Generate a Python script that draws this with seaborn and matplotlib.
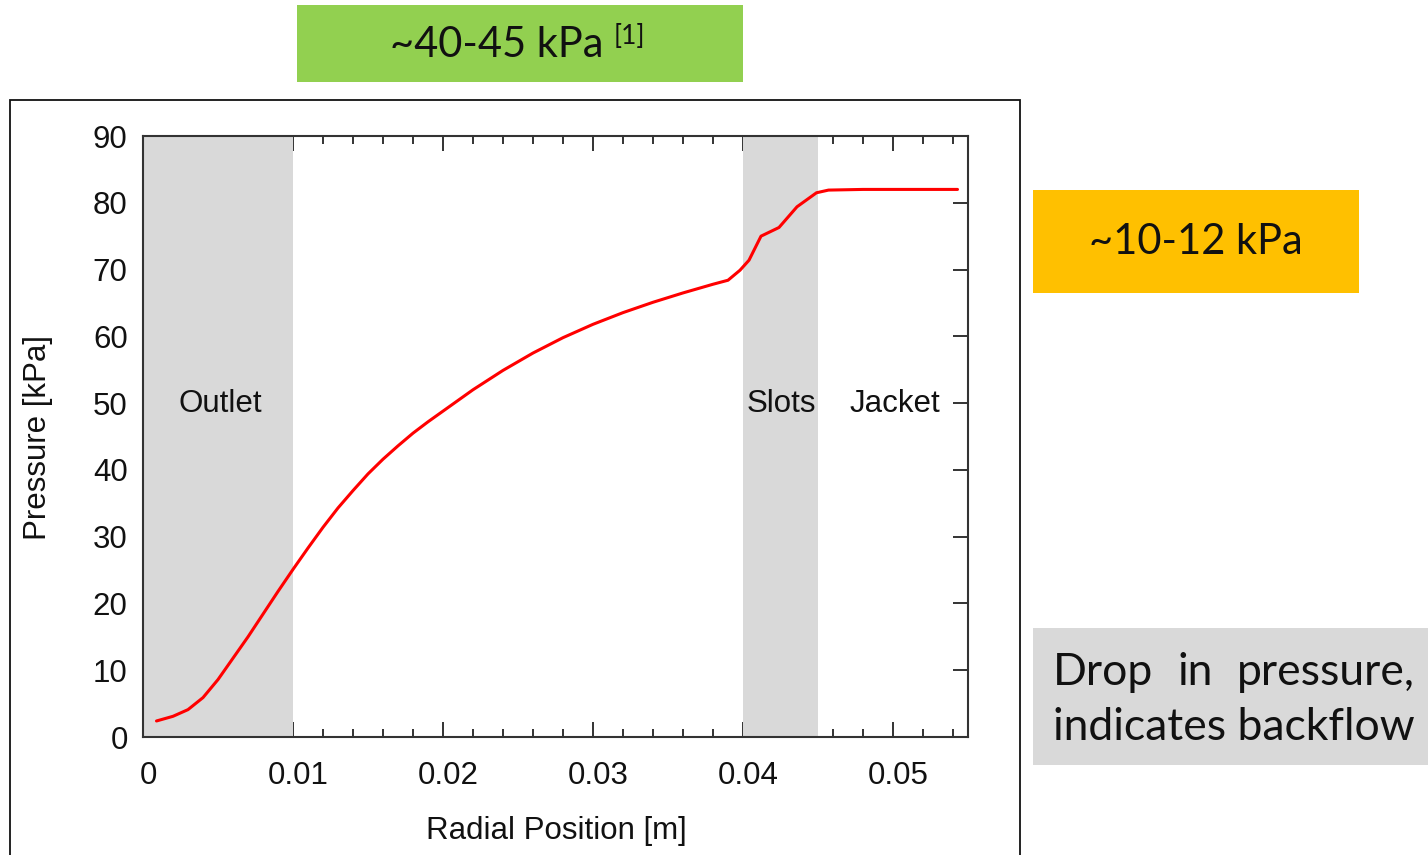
import numpy as np
import pandas as pd
import matplotlib
matplotlib.use("Agg")
import matplotlib.pyplot as plt
import matplotlib.transforms as mtransforms
from matplotlib.patches import Rectangle
from matplotlib.ticker import MultipleLocator
import seaborn as sns

# ---- data ----
radial_m = [0.0009, 0.0020, 0.0030, 0.0040, 0.0050, 0.0060, 0.0070, 0.0080, 0.0090,
            0.0100, 0.0110, 0.0120, 0.0130, 0.0140, 0.0150, 0.0160, 0.0170, 0.0180,
            0.0190, 0.0200, 0.0220, 0.0240, 0.0260, 0.0280, 0.0300, 0.0320, 0.0340,
            0.0360, 0.0380, 0.0390, 0.0398, 0.0404, 0.0412, 0.0424, 0.0436, 0.0449,
            0.0457, 0.0480, 0.0543]
pressure_kpa = [2.4, 3.1, 4.1, 5.9, 8.6, 11.8, 15.0, 18.4, 21.8,
                25.1, 28.3, 31.4, 34.3, 36.9, 39.4, 41.6, 43.6, 45.5,
                47.2, 48.8, 52.0, 54.9, 57.5, 59.8, 61.8, 63.55, 65.1,
                66.5, 67.8, 68.4, 69.9, 71.4, 75.0, 76.3, 79.4, 81.5,
                81.9, 82.0, 82.0]

region_names = ["Outlet", "Slots", "Jacket"]
region_label_x = [0.00513, 0.04253, 0.0501]
region_label_y = 49.8
shaded_spans = [(0.0, 0.010), (0.040, 0.045)]

x_ticks = [0, 0.01, 0.02, 0.03, 0.04, 0.05]
x_tick_labels = ["0", "0.01", "0.02", "0.03", "0.04", "0.05"]
y_ticks = [0, 10, 20, 30, 40, 50, 60, 70, 80, 90]

box_green_text = "~40-45 kPa"
box_green_sup = "[1]"
box_orange_text = "~10-12 kPa"
box_gray_line1 = ["Drop", "in", "pressure,"]
box_gray_line2 = "indicates backflow"

df = pd.DataFrame({"Radial Position [m]": radial_m, "Pressure [kPa]": pressure_kpa})

# ---- figure ----
sns.set_theme(style="white")
W, H = 1428, 855
fig = plt.figure(figsize=(W / 100, H / 100), dpi=100)
fig.patch.set_facecolor("white")

def fx(px):
    return px / W

def fy(py):
    return 1 - py / H

ax_font = "Liberation Sans"
box_font = ["Lato", "DejaVu Sans"]

ax = fig.add_axes([fx(143), fy(737), fx(968) - fx(143), fy(136) - fy(737)])
ax.set_facecolor("white")
ax.set_axisbelow(True)

for (a, b) in shaded_spans:
    ax.axvspan(a, b, color="#d9d9d9", lw=0, zorder=1)

sns.lineplot(data=df, x="Radial Position [m]", y="Pressure [kPa]", ax=ax,
             color="#ff0000", linewidth=2.2, sort=False, estimator=None, zorder=3)

ax.set_xlim(0, 0.055)
ax.set_ylim(0, 90)
ax.set_xticks(x_ticks)
ax.set_xticklabels(x_tick_labels)
ax.xaxis.set_minor_locator(MultipleLocator(0.002))
ax.set_yticks(y_ticks)

ax.tick_params(axis="both", which="both", direction="in", color="#333333",
               width=1.4, labelsize=22.5, labelcolor="#111111")
ax.tick_params(axis="x", which="major", length=11, top=True, bottom=True, pad=17)
ax.tick_params(axis="x", which="minor", length=6, top=True, bottom=True)
ax.tick_params(axis="y", which="major", length=11, left=True, right=True, pad=11)
for lab in ax.get_xticklabels() + ax.get_yticklabels():
    lab.set_fontfamily(ax_font)
off = mtransforms.ScaledTranslation(5 / 100, 0, fig.dpi_scale_trans)
for lab in ax.get_xticklabels():
    lab.set_transform(lab.get_transform() + off)

for s in ax.spines.values():
    s.set_visible(True)
    s.set_color("#333333")
    s.set_linewidth(1.5)
    s.set_zorder(4)

ax.set_xlabel("Radial Position [m]", fontsize=22.5, family=ax_font, color="#111111", va="center")
ax.set_ylabel("Pressure [kPa]", fontsize=22.5, family=ax_font, color="#111111", va="center")
ax.xaxis.set_label_coords((556 - 143) / 825, (737 - 831) / 601)
ax.yaxis.set_label_coords((38 - 143) / 825, (737 - 437) / 601)

for name, xl in zip(region_names, region_label_x):
    ax.text(xl, region_label_y, name, ha="center", va="center", fontsize=22.5,
            family=ax_font, color="#111111", zorder=5)

# ---- outer frame around the plot screenshot ----
fig.add_artist(Rectangle((fx(10), fy(905)), fx(1020) - fx(10), fy(100) - fy(905),
                         transform=fig.transFigure, fill=False, edgecolor="#111111",
                         linewidth=1.3, zorder=0))

# ---- coloured annotation boxes ----
def box(x0, y0, x1, y1, color):
    fig.add_artist(Rectangle((fx(x0), fy(y1)), fx(x1) - fx(x0), fy(y0) - fy(y1),
                             transform=fig.transFigure, facecolor=color,
                             edgecolor="none", zorder=1))

box(297, 5, 743, 82, "#92d050")
fig.text(fx(390), fy(45), box_green_text, ha="left", va="center", fontsize=30,
         family=box_font, color="#111111")
fig.text(fx(614), fy(37), box_green_sup, ha="left", va="center", fontsize=19,
         family=box_font, color="#111111")

box(1033, 190, 1359, 293, "#ffc000")
fig.text(fx(1196), fy(242), box_orange_text, ha="center", va="center", fontsize=30,
         family=box_font, color="#111111")

box(1033, 628, 1440, 765, "#d9d9d9")
gray_fs = 32
t2 = fig.text(fx(1053), fy(727), box_gray_line2, ha="left", va="center", fontsize=gray_fs,
              family=box_font, color="#111111")
renderer = fig.canvas.get_renderer()
right_px = t2.get_window_extent(renderer).x1
w1 = fig.text(fx(1053), fy(672), box_gray_line1[0], ha="left", va="center", fontsize=gray_fs,
              family=box_font, color="#111111")
w3 = fig.text(right_px / W, fy(672), box_gray_line1[2], ha="right", va="center",
              fontsize=gray_fs, family=box_font, color="#111111")
w2 = fig.text(0, fy(672), box_gray_line1[1], ha="center", va="center", fontsize=gray_fs,
              family=box_font, color="#111111")
b1 = w1.get_window_extent(renderer)
b3 = w3.get_window_extent(renderer)
w2.set_x(((b1.x1 + b3.x0) / 2) / W)

fig.savefig("out.png", dpi=100)
